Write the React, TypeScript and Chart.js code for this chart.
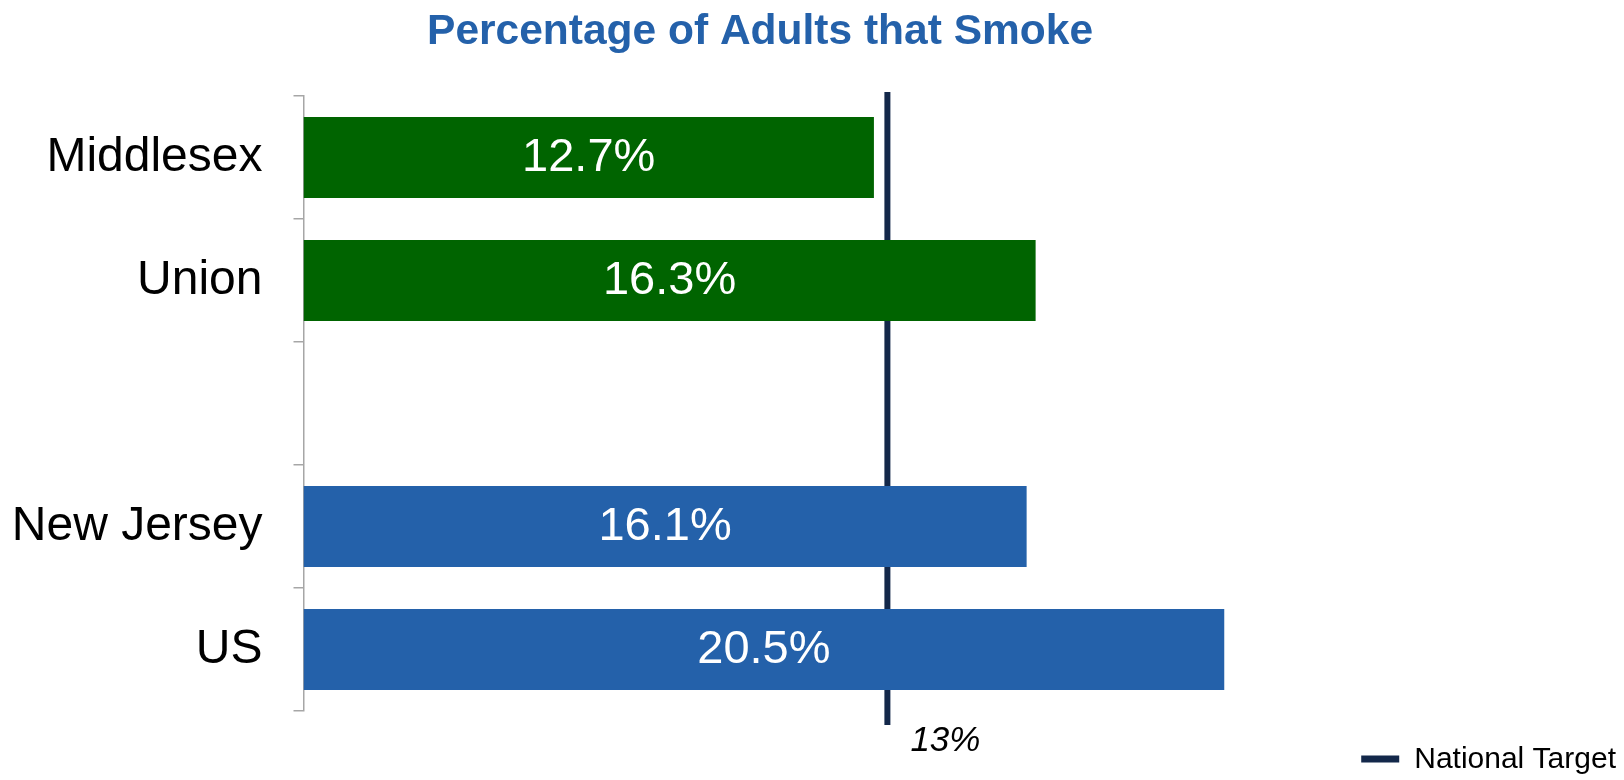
import React, { useEffect, useRef } from "react";
import { Chart, registerables } from "chart.js";

Chart.register(...registerables);

const categories = ["Middlesex", "Union", "", "New Jersey", "US"];
const smokingRates: (number | null)[] = [12.7, 16.3, null, 16.1, 20.5];
const barColors = ["#006400", "#006400", "#006400", "#2461AA", "#2461AA"];
const nationalTarget = 13;
const targetLabel = "13%";
const chartTitle = "Percentage of Adults that Smoke";
const legendLabel = "National Target";
const xMin = 0;
const xMax = 29.4;

const FONT = "'Liberation Sans', Arial, Helvetica, sans-serif";
const NAVY = "#13284A";
const TITLE_BLUE = "#2461AA";
const AXIS_GRAY = "#A6A6A6";

const targetLinePlugin = {
  id: "targetLine",
  beforeDatasetsDraw(chart: any) {
    const { ctx, chartArea, scales } = chart;
    const x = scales.x.getPixelForValue(nationalTarget);
    ctx.save();
    ctx.strokeStyle = NAVY;
    ctx.lineWidth = 6;
    ctx.beginPath();
    ctx.moveTo(x, chartArea.top - 4);
    ctx.lineTo(x, chartArea.bottom + 14);
    ctx.stroke();
    ctx.restore();
  },
  afterDatasetsDraw(chart: any) {
    const { ctx, chartArea, scales } = chart;
    const x = scales.x.getPixelForValue(nationalTarget);
    ctx.save();
    ctx.fillStyle = "#000000";
    ctx.font = `italic 35px ${FONT}`;
    ctx.textAlign = "left";
    ctx.textBaseline = "middle";
    ctx.fillText(targetLabel, x + 23, chartArea.bottom + 30);
    ctx.restore();
  },
};

const valueLabelPlugin = {
  id: "valueLabels",
  afterDatasetsDraw(chart: any) {
    const { ctx } = chart;
    const meta = chart.getDatasetMeta(0);
    ctx.save();
    ctx.fillStyle = "#FFFFFF";
    ctx.font = `47px ${FONT}`;
    ctx.textAlign = "center";
    ctx.textBaseline = "middle";
    meta.data.forEach((bar: any, i: number) => {
      const v = smokingRates[i];
      if (v === null || v === undefined) return;
      const { x, y, base } = bar.getProps(["x", "y", "base"], true);
      ctx.fillText(`${v.toFixed(1)}%`, (x + base) / 2, y + 1);
    });
    ctx.restore();
  },
};

const titlePlugin = {
  id: "customTitle",
  afterDraw(chart: any) {
    const { ctx, width } = chart;
    ctx.save();
    ctx.fillStyle = TITLE_BLUE;
    ctx.font = `bold 42.5px ${FONT}`;
    ctx.textAlign = "center";
    ctx.textBaseline = "middle";
    ctx.fillText(chartTitle, width * 0.468, 32);
    ctx.restore();
  },
};

const legendPlugin = {
  id: "targetLegend",
  afterDraw(chart: any) {
    const { ctx, width, height } = chart;
    ctx.save();
    ctx.font = `30px ${FONT}`;
    const textWidth = ctx.measureText(legendLabel).width;
    const textX = width - 8 - textWidth;
    const cy = height - 21;
    const boxW = 38;
    const boxH = 7;
    const boxX = textX - 15 - boxW;
    ctx.fillStyle = NAVY;
    ctx.fillRect(boxX, cy - boxH / 2, boxW, boxH);
    ctx.fillStyle = "#000000";
    ctx.textAlign = "left";
    ctx.textBaseline = "middle";
    ctx.fillText(legendLabel, textX, cy + 1);
    ctx.restore();
  },
};

export default function App() {
  const canvasRef = useRef<HTMLCanvasElement | null>(null);

  useEffect(() => {
    if (!canvasRef.current) return;
    const chart = new Chart(canvasRef.current, {
      type: "bar",
      data: {
        labels: categories,
        datasets: [
          {
            label: legendLabel,
            data: smokingRates,
            backgroundColor: barColors,
            borderWidth: 0,
            barPercentage: 0.66,
            categoryPercentage: 1.0,
          },
        ],
      },
      options: {
        indexAxis: "y",
        animation: false,
        responsive: true,
        maintainAspectRatio: false,
        devicePixelRatio: 1,
        layout: { padding: { top: 96, left: 13, right: 0, bottom: 0 } },
        plugins: {
          title: { display: false },
          tooltip: { enabled: false },
          legend: { display: false },
        },
        scales: {
          x: {
            type: "linear",
            min: xMin,
            max: xMax,
            display: true,
            grid: { display: false },
            border: { display: false },
            ticks: { display: false },
            afterFit: (s: any) => {
              s.height = 69;
            },
          },
          y: {
            type: "category",
            position: "left",
            grid: {
              display: true,
              drawOnChartArea: false,
              drawTicks: true,
              tickLength: 10,
              color: AXIS_GRAY,
              lineWidth: 1.5,
              offset: true,
            },
            border: { display: true, color: AXIS_GRAY, width: 1.5 },
            ticks: {
              color: "#000000",
              padding: 31,
              font: { family: FONT, size: 48 },
            },
            afterFit: (s: any) => {
              s.width = 290.5;
            },
          },
        },
      },
      plugins: [targetLinePlugin, valueLabelPlugin, titlePlugin, legendPlugin],
    });
    return () => chart.destroy();
  }, []);

  return (
    <div
      style={{
        position: "fixed",
        left: 0,
        top: 0,
        width: "1624px",
        height: "780px",
        background: "#FFFFFF",
      }}
    >
      <canvas ref={canvasRef} />
    </div>
  );
}
